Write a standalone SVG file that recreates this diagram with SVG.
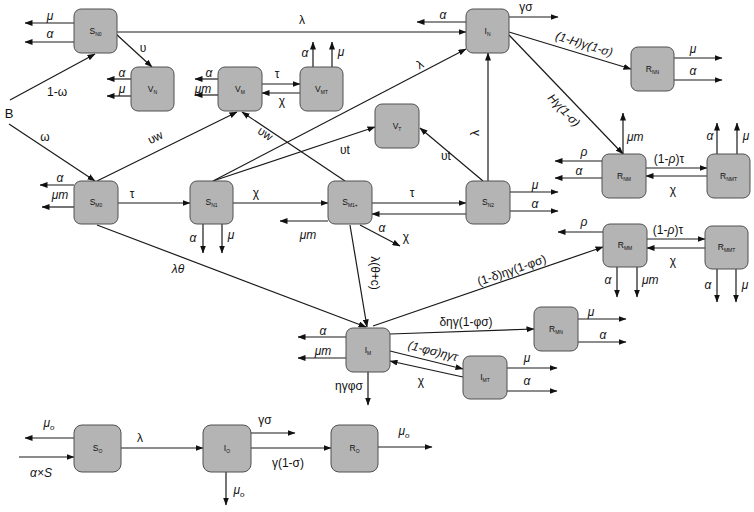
<svg xmlns="http://www.w3.org/2000/svg" width="754" height="512" viewBox="0 0 754 512">
<defs>
<marker id="a" markerWidth="8" markerHeight="6" refX="7.5" refY="3" orient="auto" markerUnits="userSpaceOnUse"><path d="M0,0 L8,3 L0,6 z" fill="#111"/></marker>
<style>
.node rect{fill:#b4b4b4;stroke:#505050;stroke-width:1}
.node text{font-family:"Liberation Sans","DejaVu Sans",sans-serif;font-size:8.5px;fill:#111;text-anchor:middle}
.sub{font-size:5px}
#edges path{stroke:#1a1a1a;stroke-width:1.2;fill:none;marker-end:url(#a)}
.lb{font-family:"Liberation Sans","DejaVu Sans",sans-serif;font-size:12px;fill:#111;text-anchor:middle}
.it{font-style:italic}
.so{font-size:8px}
</style>
</defs>
<rect width="754" height="512" fill="#fff"/>
<g id="edges">
<path d="M74,23 H25"/>
<path d="M74,42 H25"/>
<path d="M117,32 H466"/>
<path d="M116,34 L152,67"/>
<path d="M10,100 L95,54"/>
<path d="M9,124 L95,181"/>
<path d="M97,181 L237,112"/>
<path d="M345,181 L242,112"/>
<path d="M213,181 L466,49"/>
<path d="M213,181 L375,127"/>
<path d="M483,181 L420,128"/>
<path d="M488,181 V53"/>
<path d="M466,22 H417"/>
<path d="M509,17 H558"/>
<path d="M509,32 L631,69"/>
<path d="M509,35 L623,154"/>
<path d="M674,58 H722"/>
<path d="M674,80 H722"/>
<path d="M623,154 V113"/>
<path d="M602,161 H555"/>
<path d="M602,178 H555"/>
<path d="M646,168 H707"/>
<path d="M707,176 H646"/>
<path d="M717,154 V123"/>
<path d="M737,154 V123"/>
<path d="M603,232 H558"/>
<path d="M647,239 H705"/>
<path d="M705,248 H647"/>
<path d="M617,267 V297"/>
<path d="M637,267 V297"/>
<path d="M717,269 V302"/>
<path d="M736,269 V302"/>
<path d="M74,185 H40"/>
<path d="M74,207 H42"/>
<path d="M118,203 H190"/>
<path d="M97,225 L366,327"/>
<path d="M233,203 H328"/>
<path d="M203,224 V253"/>
<path d="M222,224 V253"/>
<path d="M372,203 H466"/>
<path d="M466,214 H372"/>
<path d="M328,221 H280"/>
<path d="M360,225 L400,246"/>
<path d="M350,225 L367,327"/>
<path d="M510,192 H558"/>
<path d="M510,211 H558"/>
<path d="M346,337 H298"/>
<path d="M346,358 H298"/>
<path d="M368,372 V405"/>
<path d="M390,334 L534,329"/>
<path d="M373,326 L603,247"/>
<path d="M390,351 L463,369"/>
<path d="M463,377 L390,361"/>
<path d="M507,368 H557"/>
<path d="M507,391 H557"/>
<path d="M578,319 H626"/>
<path d="M578,342 H626"/>
<path d="M131,79 H107"/>
<path d="M131,96 H107"/>
<path d="M218,79 H195"/>
<path d="M218,95 H195"/>
<path d="M262,84 H300"/>
<path d="M300,93 H262"/>
<path d="M313,67 V42"/>
<path d="M332,67 V42"/>
<path d="M74,438 H25"/>
<path d="M19,457 H74"/>
<path d="M121,448 H203"/>
<path d="M226,472 V505"/>
<path d="M251,433 H295"/>
<path d="M251,448 H331"/>
<path d="M378,447 H432"/>
</g>
<g id="SN0" class="node"><rect x="74" y="9" width="43" height="44" rx="7"/><text x="95.5" y="34">S<tspan class="sub" dy="1.5">N0</tspan></text></g>
<g id="VN" class="node"><rect x="131" y="67" width="43" height="44" rx="7"/><text x="152.5" y="92">V<tspan class="sub" dy="1.5">N</tspan></text></g>
<g id="VM" class="node"><rect x="218" y="67" width="44" height="44" rx="7"/><text x="240" y="92">V<tspan class="sub" dy="1.5">M</tspan></text></g>
<g id="VMT" class="node"><rect x="300" y="67" width="43" height="44" rx="7"/><text x="321.5" y="92">V<tspan class="sub" dy="1.5">MT</tspan></text></g>
<g id="IN" class="node"><rect x="466" y="9" width="43" height="44" rx="7"/><text x="487.5" y="34">I<tspan class="sub" dy="1.5">N</tspan></text></g>
<g id="VT" class="node"><rect x="375" y="104" width="44" height="44" rx="7"/><text x="397" y="129">V<tspan class="sub" dy="1.5">T</tspan></text></g>
<g id="RNN" class="node"><rect x="631" y="47" width="43" height="44" rx="7"/><text x="652.5" y="72">R<tspan class="sub" dy="1.5">NN</tspan></text></g>
<g id="RNM" class="node"><rect x="602" y="154" width="44" height="44" rx="7"/><text x="624" y="179">R<tspan class="sub" dy="1.5">NM</tspan></text></g>
<g id="RNMT" class="node"><rect x="707" y="154" width="43" height="44" rx="7"/><text x="728.5" y="179">R<tspan class="sub" dy="1.5">NMT</tspan></text></g>
<g id="SM0" class="node"><rect x="74" y="181" width="44" height="43" rx="7"/><text x="96" y="205">S<tspan class="sub" dy="1.5">M0</tspan></text></g>
<g id="SN1" class="node"><rect x="190" y="181" width="43" height="43" rx="7"/><text x="211.5" y="205">S<tspan class="sub" dy="1.5">N1</tspan></text></g>
<g id="SM1" class="node"><rect x="328" y="181" width="44" height="43" rx="7"/><text x="350" y="205">S<tspan class="sub" dy="1.5">M1+</tspan></text></g>
<g id="SN2" class="node"><rect x="466" y="181" width="44" height="43" rx="7"/><text x="488" y="205">S<tspan class="sub" dy="1.5">N2</tspan></text></g>
<g id="RMM" class="node"><rect x="603" y="224" width="44" height="43" rx="7"/><text x="625" y="248">R<tspan class="sub" dy="1.5">MM</tspan></text></g>
<g id="RMMT" class="node"><rect x="705" y="226" width="43" height="43" rx="7"/><text x="726.5" y="250">R<tspan class="sub" dy="1.5">MMT</tspan></text></g>
<g id="RMN" class="node"><rect x="534" y="307" width="44" height="44" rx="7"/><text x="556" y="332">R<tspan class="sub" dy="1.5">MN</tspan></text></g>
<g id="IM" class="node"><rect x="346" y="328" width="44" height="44" rx="7"/><text x="368" y="353">I<tspan class="sub" dy="1.5">M</tspan></text></g>
<g id="IMT" class="node"><rect x="463" y="356" width="44" height="43" rx="7"/><text x="485" y="380">I<tspan class="sub" dy="1.5">MT</tspan></text></g>
<g id="SO" class="node"><rect x="74" y="425" width="47" height="47" rx="8"/><text x="97.5" y="451">S<tspan class="sub" dy="1.5">O</tspan></text></g>
<g id="IO" class="node"><rect x="203" y="425" width="48" height="47" rx="8"/><text x="227" y="451">I<tspan class="sub" dy="1.5">O</tspan></text></g>
<g id="RO" class="node"><rect x="331" y="425" width="47" height="47" rx="8"/><text x="354.5" y="451">R<tspan class="sub" dy="1.5">O</tspan></text></g>
<g id="labels">
<text class="lb it" x="50" y="20">μ</text>
<text class="lb it" x="50" y="38">α</text>
<text class="lb" x="302" y="24">λ</text>
<text class="lb" x="143" y="52">υ</text>
<text class="lb" x="9" y="118" style="font-size:13px">B</text>
<text class="lb" x="57" y="96">1-ω</text>
<text class="lb" x="45" y="141">ω</text>
<text class="lb" transform="translate(157,141) rotate(-26)">υw</text>
<text class="lb" transform="translate(263,137) rotate(34)">υw</text>
<text class="lb" transform="translate(422,68) rotate(-28)">λ</text>
<text class="lb" x="345" y="154">υt</text>
<text class="lb" x="446" y="160">υt</text>
<text class="lb" transform="translate(479,133) rotate(-90)">λ</text>
<text class="lb it" x="443" y="19">α</text>
<text class="lb" x="526" y="11">γσ</text>
<text class="lb it" transform="translate(583,48) rotate(17)">(1-H)γ(1-σ)</text>
<text class="lb it" transform="translate(561,113) rotate(46)">Hγ(1-σ)</text>
<text class="lb it" x="693" y="53">μ</text>
<text class="lb it" x="693" y="75">α</text>
<text class="lb it" x="627" y="141" style="text-anchor:start">μm</text>
<text class="lb it" x="584" y="156">ρ</text>
<text class="lb it" x="579" y="175">α</text>
<text class="lb" x="669" y="163">(1-<tspan class="it">ρ</tspan>)τ</text>
<text class="lb" x="673" y="194">χ</text>
<text class="lb it" x="710" y="140">α</text>
<text class="lb it" x="746" y="140">μ</text>
<text class="lb it" x="584" y="226">ρ</text>
<text class="lb" x="668" y="234">(1-<tspan class="it">ρ</tspan>)τ</text>
<text class="lb" x="673" y="265">χ</text>
<text class="lb it" x="608" y="284">α</text>
<text class="lb it" x="642" y="284" style="text-anchor:start">μm</text>
<text class="lb it" x="708" y="289">α</text>
<text class="lb it" x="745" y="289">μ</text>
<text class="lb it" x="60" y="182">α</text>
<text class="lb it" x="60" y="199">μm</text>
<text class="lb" x="132" y="198">τ</text>
<text class="lb it" x="178" y="273">λθ</text>
<text class="lb" x="256" y="197">χ</text>
<text class="lb it" x="193" y="242">α</text>
<text class="lb it" x="231" y="239">μ</text>
<text class="lb" x="412" y="197">τ</text>
<text class="lb" x="406" y="241">χ</text>
<text class="lb it" x="308" y="239">μm</text>
<text class="lb it" x="382" y="232">α</text>
<text class="lb" transform="translate(371,273) rotate(90)">λ(θ+c)</text>
<text class="lb it" x="535" y="189">μ</text>
<text class="lb it" x="535" y="208">α</text>
<text class="lb it" x="323" y="335">α</text>
<text class="lb it" x="323" y="355">μm</text>
<text class="lb" x="349" y="390">ηγφσ</text>
<text class="lb" x="466" y="326">δηγ(1-φσ)</text>
<text class="lb" transform="translate(513,274) rotate(-19)">(1-δ)ηγ(1-φσ)</text>
<text class="lb it" transform="translate(432,355) rotate(14)">(1-φσ)ηγτ</text>
<text class="lb" x="421" y="385">χ</text>
<text class="lb it" x="527" y="362">μ</text>
<text class="lb it" x="527" y="385">α</text>
<text class="lb it" x="591" y="316">μ</text>
<text class="lb it" x="603" y="339">α</text>
<text class="lb it" x="122" y="77">α</text>
<text class="lb it" x="122" y="93">μ</text>
<text class="lb it" x="209" y="77">α</text>
<text class="lb it" x="203" y="93">μm</text>
<text class="lb" x="277" y="78">τ</text>
<text class="lb" x="282" y="105">χ</text>
<text class="lb it" x="305" y="57">α</text>
<text class="lb it" x="341" y="56">μ</text>
<text class="lb it" x="49" y="427">μ<tspan class="so" dy="3">o</tspan></text>
<text class="lb it" x="41" y="477">α×S</text>
<text class="lb" x="140" y="442">λ</text>
<text class="lb it" x="239" y="494">μ<tspan class="so" dy="3">o</tspan></text>
<text class="lb" x="265" y="424">γσ</text>
<text class="lb" x="288" y="467">γ(1-σ)</text>
<text class="lb it" x="404" y="435">μ<tspan class="so" dy="3">o</tspan></text>
</g>
</svg>
